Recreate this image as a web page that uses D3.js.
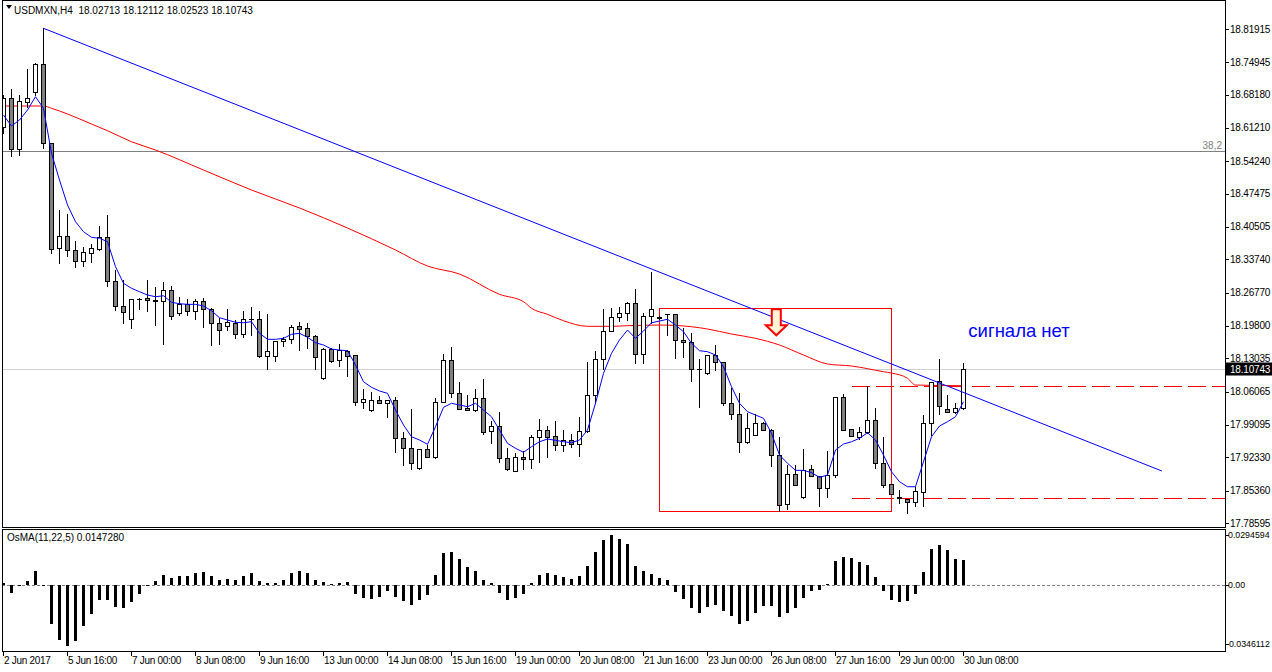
<!DOCTYPE html>
<html>
<head>
<meta charset="utf-8">
<script src="https://cdn.jsdelivr.net/npm/d3@7"></script>
<style>
  body { margin: 0; background: #fff; }
  svg { display: block; }
  text { font-family: "Liberation Sans", Arial, sans-serif; white-space: pre; }
</style>
</head>
<body>
<svg id="chart" width="1272" height="672"></svg>
<script>
// USDMXN H4 candles
const opens = [18.6135,18.6742,18.5675,18.6658,18.6868,18.7459,18.5801,18.3617,18.3856,18.3569,
  18.3333,18.3500,18.3596,18.3835,18.2914,18.2398,18.2120,18.2540,18.2559,18.2523,
  18.2496,18.2726,18.2258,18.2433,18.2287,18.2496,18.2335,18.2036,18.1973,18.2048,
  18.1806,18.2120,18.2120,18.1346,18.1346,18.1659,18.1701,18.1973,18.1931,18.1764,
  18.0886,18.1505,18.1262,18.1463,18.1367,18.0384,18.0216,18.0425,18.0363,18.0425,
  17.9631,17.9421,17.9003,17.9407,17.9246,18.0384,18.1262,18.0572,18.0258,18.0222,
  18.0467,17.9777,17.9882,17.9212,17.8953,17.9233,17.9191,17.9664,17.9798,17.9672,
  17.9484,17.9589,17.9505,17.9777,18.0530,18.1283,18.1869,18.2174,18.2245,18.2454,
  18.1387,18.2189,18.2140,18.2230,18.2225,18.1680,18.1645,18.1074,18.0990,18.1367,
  18.1226,18.0363,18.0133,17.9547,17.9693,17.9944,17.9798,17.9275,17.8250,17.8878,
  17.8397,17.8982,17.8836,17.8585,17.8857,18.0488,17.9819,17.9651,17.9756,18.0007,
  17.9108,17.8668,17.8397,17.8361,17.8304,17.8514,17.9944,18.0823,18.0237,18.0187,
  18.02713];
const highs = [18.6811,18.6930,18.6805,18.7349,18.7487,18.8206,18.5810,18.4406,18.4316,18.3757,
  18.3626,18.3688,18.4077,18.4301,18.3151,18.2942,18.2544,18.2560,18.2942,18.2789,
  18.2900,18.2816,18.2580,18.2544,18.2544,18.2565,18.2362,18.2140,18.2335,18.2105,
  18.2293,18.2377,18.2293,18.2230,18.1659,18.1756,18.2000,18.2063,18.2042,18.1785,
  18.1526,18.1510,18.1597,18.1477,18.1370,18.0668,18.0593,18.0515,18.0425,18.0501,
  17.9769,18.0243,17.9407,17.9490,18.0467,18.1394,18.1534,18.0802,18.0530,18.0655,
  18.0865,17.9992,18.0181,17.9421,17.9329,17.9371,17.9700,18.0034,17.9894,17.9992,
  17.9804,17.9721,18.0076,18.1226,18.1457,18.2329,18.2362,18.2371,18.2488,18.2747,
  18.2245,18.3103,18.2180,18.2240,18.2240,18.1938,18.1833,18.1283,18.1367,18.1576,
  18.1230,18.0676,18.0572,18.0153,18.0133,17.9978,17.9819,17.9658,17.9066,17.9066,
  17.9407,17.9066,17.8840,17.9359,18.0488,18.0551,17.9825,17.9867,18.0731,18.0258,
  17.9651,17.8675,17.8549,17.8365,17.8618,18.0118,18.0802,18.1283,18.0536,18.0375,
  18.12112];
const lows = [18.6016,18.5541,18.5562,18.6554,18.6811,18.5709,18.3500,18.3291,18.3450,18.3207,
  18.3241,18.3324,18.3569,18.2822,18.2314,18.2036,18.1944,18.2335,18.2293,18.2000,
  18.1603,18.2120,18.2210,18.2216,18.2132,18.1965,18.1588,18.1609,18.1896,18.1722,
  18.1756,18.1785,18.1340,18.1086,18.1254,18.1567,18.1630,18.1484,18.1526,18.1086,
  18.0880,18.1233,18.1149,18.0940,18.0321,18.0258,18.0210,18.0363,18.0082,17.9350,
  17.9072,17.8982,17.8982,17.9246,17.9212,18.0380,18.0501,18.0237,18.0222,18.0202,
  17.9714,17.9539,17.9141,17.8968,17.8950,17.8988,17.9016,17.9141,17.9233,17.9386,
  17.9365,17.9455,17.9267,17.9770,18.0363,18.1074,18.1865,18.2084,18.2105,18.1199,
  18.1199,18.2036,18.2135,18.1797,18.1316,18.1337,18.0835,18.0292,18.0985,18.1059,
  18.0327,18.0028,17.9350,17.9526,17.9690,17.9798,17.9057,17.8110,17.8152,17.8648,
  17.8390,17.8836,17.8208,17.8397,17.8815,17.9798,17.9672,17.9610,17.9750,17.9003,
  17.8606,17.8459,17.8271,17.8062,17.8221,17.8221,17.9700,18.0139,18.0187,18.0166,
  18.02523];
const closes = [18.6742,18.5675,18.6686,18.6742,18.7459,18.5801,18.3596,18.3868,18.3569,18.3339,
  18.3521,18.3605,18.3835,18.2914,18.2398,18.2266,18.2544,18.2550,18.2517,18.2509,
  18.2726,18.2182,18.2446,18.2287,18.2496,18.2329,18.2036,18.1889,18.2057,18.1806,
  18.2120,18.2126,18.1346,18.1450,18.1659,18.1714,18.1952,18.1910,18.1764,18.1325,
  18.1498,18.1254,18.1477,18.1358,18.0384,18.0446,18.0425,18.0363,18.0425,17.9631,
  17.9421,17.9108,17.9407,17.9246,18.0384,18.1262,18.0572,18.0237,18.0222,18.0467,
  17.9756,17.9882,17.9212,17.8982,17.9233,17.9191,17.9664,17.9798,17.9664,17.9484,
  17.9589,17.9518,17.9777,18.0530,18.1283,18.1869,18.2174,18.2245,18.2454,18.1387,
  18.2189,18.2329,18.2174,18.2225,18.1680,18.1645,18.1074,18.1070,18.1367,18.1226,
  18.0363,18.0133,17.9547,17.9840,17.9944,17.9798,17.9275,17.8229,17.8878,17.8648,
  17.8961,17.8836,17.8585,17.8857,18.0488,17.9798,17.9672,17.9756,18.0007,17.9108,
  17.8654,17.8459,17.8391,17.8304,17.8528,17.9944,18.0802,18.0306,18.0187,18.0258,
  18.10743];

// fast moving average (blue), one value per bar
const fastMA = [18.6393,18.6163,18.6288,18.6497,18.6775,18.6533,18.5592,18.5033,18.4510,18.4161,
  18.3952,18.3835,18.3814,18.3743,18.3220,18.2873,18.2768,18.2697,18.2628,18.2592,
  18.2613,18.2475,18.2446,18.2433,18.2433,18.2398,18.2299,18.2153,18.2105,18.2057,
  18.2048,18.2069,18.1827,18.1701,18.1701,18.1722,18.1806,18.1827,18.1743,18.1630,
  18.1582,18.1498,18.1477,18.1463,18.1164,18.0814,18.0697,18.0620,18.0572,18.0222,
  17.9909,17.9664,17.9595,17.9505,17.9873,18.0279,18.0363,18.0327,18.0292,18.0363,
  18.0222,18.0082,17.9804,17.9526,17.9421,17.9338,17.9455,17.9559,17.9616,17.9589,
  17.9559,17.9539,17.9595,17.9804,18.0363,18.0990,18.1408,18.1687,18.1896,18.1722,
  18.1875,18.2048,18.2084,18.2120,18.2000,18.1860,18.1618,18.1463,18.1442,18.1373,
  18.1128,18.0710,18.0363,18.0187,18.0118,18.0049,17.9735,17.9281,17.9108,17.8961,
  17.8961,17.8911,17.8815,17.8863,17.9386,17.9511,17.9559,17.9631,17.9748,17.9595,
  17.9281,17.8932,17.8723,17.8618,17.8618,17.9141,17.9664,17.9888,17.9978,18.0082,
  18.0396];

// slow moving average (red), read at these bars
const slowBars = [0,5,6,8,11,13,16,19,25,31,37,43,49,53,57,62,65,66,68,70,73,76,78,82,86,88,91,94,97,100,103,106,110,111,113,114,120];
const slowMA = [18.6581,18.6581,18.6533,18.6414,18.6204,18.6064,18.5834,18.5661,18.5242,18.4824,
  18.4448,18.4029,18.3569,18.3234,18.3067,18.2642,18.2488,18.2350,18.2224,18.2090,
  18.1973,18.1973,18.1986,18.2000,18.1965,18.1917,18.1812,18.1722,18.1582,18.1373,
  18.1185,18.1143,18.1024,18.0996,18.0886,18.0745,18.0731];

// OsMA(11,22,5) histogram
const osma = [0.0013,-0.0049,-0.0006,0.0024,0.0084,0.0003,-0.0226,-0.0320,-0.0355,-0.0326,
  -0.0243,-0.0169,-0.0085,-0.0090,-0.0128,-0.0137,-0.0102,-0.0055,-0.0008,0.0027,
  0.0061,0.0043,0.0055,0.0055,0.0074,0.0080,0.0055,0.0031,0.0037,0.0031,
  0.0055,0.0072,0.0027,0.0012,0.0015,0.0031,0.0072,0.0084,0.0072,0.0029,
  0.0021,0.0004,0.0012,0.0020,-0.0051,-0.0075,-0.0081,-0.0069,-0.0035,-0.0069,
  -0.0092,-0.0116,-0.0085,-0.0057,0.0061,0.0190,0.0196,0.0155,0.0108,0.0084,
  0.0031,0.0015,-0.0049,-0.0085,-0.0073,-0.0055,0.0014,0.0061,0.0072,0.0061,
  0.0049,0.0037,0.0055,0.0113,0.0196,0.0266,0.0296,0.0272,0.0243,0.0113,
  0.0084,0.0066,0.0043,0.0031,-0.0038,-0.0079,-0.0137,-0.0161,-0.0131,-0.0114,
  -0.0155,-0.0184,-0.0231,-0.0208,-0.0161,-0.0120,-0.0120,-0.0190,-0.0161,-0.0137,
  -0.0073,-0.0032,-0.0026,0.0008,0.0143,0.0166,0.0160,0.0137,0.0119,0.0049,
  -0.0032,-0.0085,-0.0102,-0.0096,-0.0055,0.0078,0.0213,0.0237,0.0208,0.0155,
  0.0147280];

const priceTicks = [18.81915,18.74945,18.68180,18.61210,18.54240,18.47475,18.40505,18.33740,
  18.26770,18.19800,18.13035,18.06065,17.99095,17.92330,17.85360,17.78595];
const osmaTicks = [0.0294594, 0.00, -0.0346112];
const osmaTickText = ["0.0294594", "0.00", "-0.0346112"];
const timeBars = [0,8,16,24,32,40,48,56,64,72,80,88,96,104,112,120];
const timeLabels = ["2 Jun 2017","5 Jun 16:00","7 Jun 00:00","8 Jun 08:00","9 Jun 16:00","13 Jun 00:00",
  "14 Jun 08:00","15 Jun 16:00","19 Jun 00:00","20 Jun 08:00","21 Jun 16:00","23 Jun 00:00",
  "26 Jun 08:00","27 Jun 16:00","29 Jun 00:00","30 Jun 08:00"];

// drawn objects
const trendBars = [5, 144.8], trendPrices = [18.8206, 17.8947];
const fiboPrice = 18.5640, fiboLabel = "38,2";
const boxBars = [82, 111], boxPrices = [18.2350, 17.8110];
const levelStart = 106, levelPrices = [18.0735, 17.8376];
const arrowBar = 96.6, arrowPrice = 18.2330;
const noteBar = 120.6, notePrice = 18.1751, noteText = "сигнала нет";
const header = "USDMXN,H4  18.02713 18.12112 18.02523 18.10743";
const osmaHeader = "OsMA(11,22,5) 0.0147280";

const svg = d3.select("#chart");
const left = 2, right = 1225, mainBottom = 527, subTop = 529, subBottom = 651;

const x = d3.scaleLinear().domain([0, 120]).range([3.5, 963.5]);
const y = d3.scaleLinear().domain([17.78595, 18.81915]).range([523, 29]);
const yo = d3.scaleLinear().domain([-0.0346112, 0.0294594]).range([644, 535]);
const snap = v => Math.round(v) + 0.5;

svg.append("rect").attr("width", 1272).attr("height", 672).attr("fill", "#fff");

svg.append("defs").append("clipPath").attr("id", "mainClip")
  .append("rect").attr("x", left + 1).attr("y", 1).attr("width", right - left - 1).attr("height", mainBottom - 1);

const main = svg.append("g").attr("clip-path", "url(#mainClip)");

// horizontal level lines
main.append("line").attr("x1", left).attr("x2", right)
  .attr("y1", snap(y(fiboPrice))).attr("y2", snap(y(fiboPrice)))
  .attr("stroke", "#808080").attr("shape-rendering", "crispEdges");
main.append("line").attr("x1", left).attr("x2", right)
  .attr("y1", snap(y(closes[120]))).attr("y2", snap(y(closes[120])))
  .attr("stroke", "#d0d0d0").attr("shape-rendering", "crispEdges");

// red box
main.append("rect")
  .attr("x", x(boxBars[0])).attr("y", snap(y(boxPrices[0])))
  .attr("width", x(boxBars[1]) - x(boxBars[0]))
  .attr("height", Math.round(y(boxPrices[1])) - Math.round(y(boxPrices[0])))
  .attr("fill", "none").attr("stroke", "#ff0000").attr("shape-rendering", "crispEdges");

// dashed levels
main.selectAll("line.level").data(levelPrices).join("line")
  .attr("class", "level")
  .attr("x1", x(levelStart)).attr("x2", right)
  .attr("y1", d => snap(y(d))).attr("y2", d => snap(y(d)))
  .attr("stroke", "#ff0000").attr("stroke-dasharray", "18,6").attr("shape-rendering", "crispEdges");

// slow MA
main.append("path")
  .datum(slowBars.map((b, k) => [b, slowMA[k]]))
  .attr("fill", "none").attr("stroke", "#ff0000").attr("stroke-width", 1)
  .attr("d", d3.line().x(d => x(d[0])).y(d => y(d[1])).curve(d3.curveMonotoneX));

// candles
const bars = d3.range(opens.length).map(i => ({ i, o: opens[i], h: highs[i], l: lows[i], c: closes[i] }));
const cg = main.append("g").attr("shape-rendering", "crispEdges");
cg.selectAll("line.wick").data(bars).join("line")
  .attr("class", "wick")
  .attr("x1", d => x(d.i)).attr("x2", d => x(d.i))
  .attr("y1", d => Math.round(y(d.h))).attr("y2", d => Math.round(y(d.l)) + 1)
  .attr("stroke", "#000");
cg.selectAll("rect.body").data(bars.filter(d => Math.round(y(d.o)) !== Math.round(y(d.c)))).join("rect")
  .attr("class", "body")
  .attr("x", d => x(d.i) - 2)
  .attr("y", d => snap(y(Math.max(d.o, d.c))))
  .attr("width", 4)
  .attr("height", d => Math.round(y(Math.min(d.o, d.c))) - Math.round(y(Math.max(d.o, d.c))))
  .attr("fill", d => d.c >= d.o ? "#ffffff" : "#808080")
  .attr("stroke", "#000");
cg.selectAll("line.doji").data(bars.filter(d => Math.round(y(d.o)) === Math.round(y(d.c)))).join("line")
  .attr("class", "doji")
  .attr("x1", d => x(d.i) - 2.5).attr("x2", d => x(d.i) + 2.5)
  .attr("y1", d => snap(y(d.c))).attr("y2", d => snap(y(d.c)))
  .attr("stroke", "#000");

// fast MA
main.append("path")
  .datum(fastMA.map((v, i) => [i, v]))
  .attr("fill", "none").attr("stroke", "#0000ff").attr("stroke-width", 1)
  .attr("d", d3.line().x(d => x(d[0])).y(d => y(d[1])));

// trend line
main.append("line")
  .attr("x1", x(trendBars[0])).attr("y1", y(trendPrices[0]))
  .attr("x2", x(trendBars[1])).attr("y2", y(trendPrices[1]))
  .attr("stroke", "#0000ff");

// down arrow marker
const ax = x(arrowBar), ay = y(arrowPrice);
main.append("path")
  .attr("d", `M${ax - 4.5},${ay} h9 v16 h6 l-10.5,10 l-10.5,-10 h6 z`)
  .attr("fill", "#fff4d8").attr("stroke", "#ff0000").attr("stroke-width", 2)
  .attr("stroke-linejoin", "miter");

main.append("text").attr("x", x(noteBar)).attr("y", y(notePrice))
  .attr("font-size", 18.5).attr("fill", "#0000ff").text(noteText);

main.append("text").attr("x", right - 3).attr("y", snap(y(fiboPrice)) - 3)
  .attr("text-anchor", "end").attr("font-size", 10).attr("fill", "#808080").text(fiboLabel);

// OsMA histogram
const sub = svg.append("g").attr("shape-rendering", "crispEdges");
sub.append("line").attr("x1", left).attr("x2", right)
  .attr("y1", snap(yo(0))).attr("y2", snap(yo(0)))
  .attr("stroke", "#808080").attr("stroke-dasharray", "3,2");
sub.selectAll("rect.hist").data(osma.map((v, i) => ({ i, v }))).join("rect")
  .attr("class", "hist")
  .attr("x", d => x(d.i) - 1.5)
  .attr("y", d => Math.round(Math.min(yo(d.v), yo(0))))
  .attr("width", 3)
  .attr("height", d => Math.max(1, Math.abs(Math.round(yo(d.v)) - Math.round(yo(0)))))
  .attr("fill", "#000");

// frames
const frame = svg.append("g").attr("fill", "none").attr("stroke", "#000").attr("shape-rendering", "crispEdges");
frame.append("rect").attr("x", left + 0.5).attr("y", 0.5).attr("width", right - left).attr("height", mainBottom);
frame.append("rect").attr("x", left + 0.5).attr("y", subTop + 0.5).attr("width", right - left).attr("height", subBottom - subTop);

// price axis
const pa = svg.append("g").attr("font-size", 10).attr("letter-spacing", -0.2);
pa.selectAll("line").data(priceTicks).join("line")
  .attr("x1", right).attr("x2", right + 4)
  .attr("y1", d => snap(y(d))).attr("y2", d => snap(y(d)))
  .attr("stroke", "#000").attr("shape-rendering", "crispEdges");
pa.selectAll("text").data(priceTicks).join("text")
  .attr("x", right + 5).attr("y", d => y(d) + 3.5)
  .attr("fill", "#000").text(d => d.toFixed(5));

const lastY = snap(y(closes[120]));
svg.append("rect").attr("x", right + 1).attr("y", lastY - 7).attr("width", 46).attr("height", 13).attr("fill", "#000");
svg.append("text").attr("x", right + 5).attr("y", lastY + 3.5).attr("font-size", 10)
  .attr("letter-spacing", -0.2).attr("fill", "#fff")
  .text(closes[120].toFixed(5));

// OsMA axis labels, a touch smaller to fit the margin
const oa = svg.append("g").attr("font-size", 8.8);
oa.selectAll("line").data(osmaTicks).join("line")
  .attr("x1", right).attr("x2", right + 4)
  .attr("y1", d => snap(yo(d))).attr("y2", d => snap(yo(d)))
  .attr("stroke", "#000").attr("shape-rendering", "crispEdges");
oa.selectAll("text").data(osmaTicks).join("text")
  .attr("x", (d, k) => k === 2 ? right + 1 : right + 3).attr("y", d => yo(d) + 3.2)
  .text((d, k) => osmaTickText[k]);

// time axis
const ta = svg.append("g").attr("font-size", 10).attr("letter-spacing", -0.3);
ta.selectAll("line").data(timeBars).join("line")
  .attr("x1", d => x(d)).attr("x2", d => x(d))
  .attr("y1", subBottom).attr("y2", subBottom + 5)
  .attr("stroke", "#000").attr("shape-rendering", "crispEdges");
ta.selectAll("text").data(timeBars).join("text")
  .attr("x", d => x(d) + 0.5).attr("y", 664)
  .text((d, k) => timeLabels[k]);

// headers
svg.append("path").attr("d", "M6,5 h6 l-3,4 z").attr("fill", "#000");
svg.append("text").attr("x", 14).attr("y", 14).attr("font-size", 10).text(header);
svg.append("text").attr("x", 7).attr("y", 541).attr("font-size", 10).text(osmaHeader);
</script>
</body>
</html>
